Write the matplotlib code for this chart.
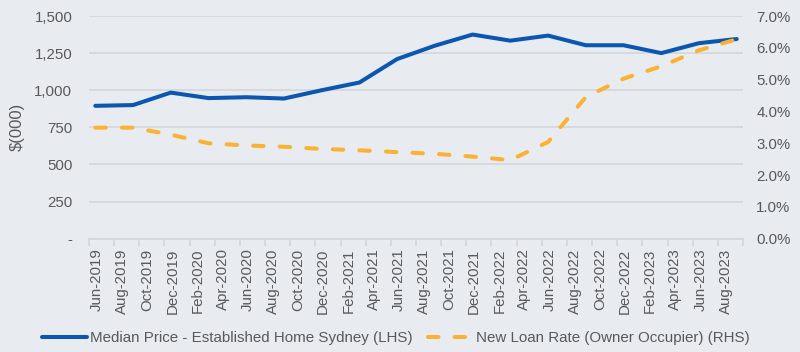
import matplotlib
matplotlib.use("Agg")
import matplotlib.pyplot as plt
from matplotlib.ticker import FixedLocator, FuncFormatter

plt.rcParams['font.family'] = ['Liberation Sans', 'DejaVu Sans']

# ---- data (quarterly observations, Jun-2019 .. Sep-2023) ----
months_from_start = [0, 3, 6, 9, 12, 15, 18, 21, 24, 27, 30, 33, 36, 39, 42, 45, 48, 51]
median_price = [895, 900, 984, 947, 953, 944, 1000, 1052, 1210, 1300, 1375, 1334,
                1368, 1303, 1303, 1250, 1317, 1345]
loan_rate = [3.49, 3.49, 3.27, 3.00, 2.93, 2.89, 2.82, 2.78, 2.72, 2.67, 2.58, 2.47,
             3.04, 4.45, 5.03, 5.42, 5.92, 6.27]
tick_labels = ['Jun-2019', 'Aug-2019', 'Oct-2019', 'Dec-2019', 'Feb-2020', 'Apr-2020',
               'Jun-2020', 'Aug-2020', 'Oct-2020', 'Dec-2020', 'Feb-2021', 'Apr-2021',
               'Jun-2021', 'Aug-2021', 'Oct-2021', 'Dec-2021', 'Feb-2022', 'Apr-2022',
               'Jun-2022', 'Aug-2022', 'Oct-2022', 'Dec-2022', 'Feb-2023', 'Apr-2023',
               'Jun-2023', 'Aug-2023']
left_ticks = [0, 250, 500, 750, 1000, 1250, 1500]
right_ticks = [0, 1, 2, 3, 4, 5, 6, 7]

bg = '#E8ECF0'
grid_c = '#D3D7DB'
txt_c = '#595959'
blue = '#0A56B0'
orange = '#F9B233'

fig = plt.figure(figsize=(8, 3.52), dpi=100, facecolor=bg)
ax = fig.add_axes([89 / 800, 1 - 238.7 / 352, 654 / 800, (238.7 - 16) / 352])
ax.set_facecolor(bg)
ax2 = ax.twinx()

ax.set_xlim(-0.5, 51.5)
ax.set_ylim(0, 1500)
ax2.set_ylim(0, 7)

# grid
ax.set_yticks(left_ticks)
ax.yaxis.grid(True, color=grid_c, linewidth=1.2)
ax.set_axisbelow(True)
for a in (ax, ax2):
    for s in ('top', 'left', 'right'):
        a.spines[s].set_visible(False)
ax2.spines['bottom'].set_visible(False)
ax.spines['bottom'].set_color(grid_c)
ax.spines['bottom'].set_linewidth(1.2)

ax.yaxis.set_major_formatter(FuncFormatter(lambda v, p: '-' if v == 0 else f'{v:,.0f}'))
ax.tick_params(axis='y', length=0, pad=12, labelsize=10.8, labelcolor=txt_c)
ax2.set_yticks(right_ticks)
ax2.yaxis.set_major_formatter(FuncFormatter(lambda v, p: f'{v:.1f}%'))
ax2.tick_params(axis='y', length=0, pad=9.5, labelsize=10.8, labelcolor=txt_c)

# x axis: tick marks between 2-month slots, labels inside slots
n = len(tick_labels)
ax.xaxis.set_major_locator(FixedLocator([-0.5 + 2 * k for k in range(n + 1)]))
ax.set_xticklabels([])
ax.xaxis.set_minor_locator(FixedLocator([-0.5 + 2 * k + 0.62 for k in range(n)]))
ax.set_xticklabels(tick_labels, minor=True, rotation=90)
ax.tick_params(axis='x', which='major', length=5, color=grid_c, width=1.2)
ax.tick_params(axis='x', which='minor', length=0, pad=7, labelsize=10.8, labelcolor=txt_c)

ax.set_ylabel('$(000)', color=txt_c, fontsize=12, labelpad=7)

l1, = ax.plot(months_from_start, median_price, color=blue, linewidth=2.9,
              solid_capstyle='round', solid_joinstyle='round', zorder=3,
              label='Median Price - Established Home Sydney (LHS)')
l2, = ax2.plot(months_from_start, loan_rate, color=orange, linewidth=2.9,
               dashes=(2.6, 4.0), dash_capstyle='round', zorder=3,
               label='New Loan Rate (Owner Occupier) (RHS)')

fig.legend(handles=[l1, l2], loc='center', bbox_to_anchor=(0.495, 0.04), ncol=2,
           frameon=False, fontsize=10.9, labelcolor=txt_c, handlelength=3.0,
           handletextpad=0.2, columnspacing=1.0)

fig.savefig('out.png', dpi=100, facecolor=bg)
